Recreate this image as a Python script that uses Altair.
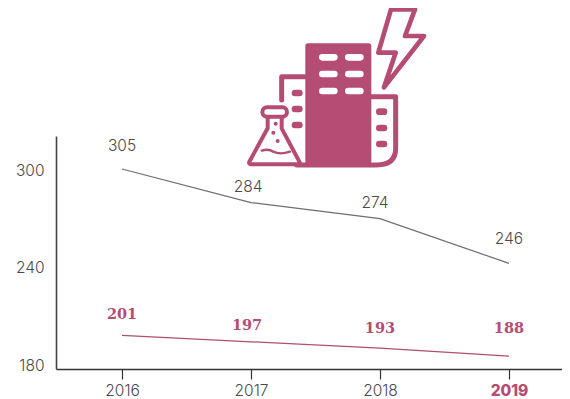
import base64
import altair as alt
import pandas as pd

years = [2016, 2017, 2018, 2019]
grey_values = [305, 284, 274, 246]
pink_values = [201, 197, 193, 188]
y_tick_labels = [180, 240, 300]

PINK = "#B44C74"
GREY = "#6E6E6E"
TEXT = "#4A4A4A"
SANS = "Inter"

# label nudges in pixels (layout, not data)
grey_dx = [0, -3, -5, 0]
grey_dy = [-23, -16, -16, -24]
pink_dx = [0, -4, 0, 0]
pink_dy = [-20, -16, -19, -27]

icon = f"""<svg xmlns='http://www.w3.org/2000/svg' viewBox='0 0 630 525' width='210' height='175'>
<g fill='none' stroke='{PINK}' stroke-width='15' stroke-linecap='round' stroke-linejoin='round'>
<path d='M155 300 V230 H226'/>
<path d='M424 290 H497 V445 Q497 495 440 495 H200'/>
<path d='M483 28 H555 L525 108 H582 L462 262 L497 158 H445 Z' fill='white' stroke-width='14'/>
</g>
<rect x='226' y='130' width='198' height='370' rx='8' fill='{PINK}'/>
<g fill='white'>
<rect x='267' y='162' width='56' height='20' rx='10'/><rect x='345' y='162' width='56' height='20' rx='10'/>
<rect x='267' y='212' width='56' height='20' rx='10'/><rect x='345' y='212' width='56' height='20' rx='10'/>
<rect x='267' y='263' width='56' height='20' rx='10'/><rect x='345' y='263' width='56' height='20' rx='10'/>
</g>
<g fill='{PINK}'>
<rect x='185' y='269' width='33' height='20' rx='10'/><rect x='185' y='317' width='33' height='20' rx='10'/><rect x='185' y='365' width='33' height='20' rx='10'/>
<rect x='438' y='325' width='34' height='20' rx='10'/><rect x='438' y='374' width='34' height='20' rx='10'/><rect x='438' y='422' width='34' height='20' rx='10'/>
</g>
<path d='M113 350 V385 L58 485 Q55 493 65 493 H203 Q213 493 208 485 L155 385 V350' fill='white' stroke='{PINK}' stroke-width='12' stroke-linejoin='round'/>
<rect x='97' y='322' width='74' height='28' rx='14' fill='white' stroke='{PINK}' stroke-width='12'/>
<path d='M95 452 Q115 445 130 455 Q150 465 180 455' fill='none' stroke='{PINK}' stroke-width='7' stroke-linecap='round'/>
<circle cx='137' cy='371' r='6' fill='{PINK}'/><circle cx='130' cy='398' r='6' fill='{PINK}'/><circle cx='143' cy='423' r='6' fill='{PINK}'/>
</svg>"""
icon_url = "data:image/svg+xml;base64," + base64.b64encode(icon.encode()).decode()

grey_df = pd.DataFrame({"year": years, "value": grey_values})
pink_df = pd.DataFrame({"year": years, "value": pink_values})
tick_df = pd.DataFrame({"v": y_tick_labels})

x_scale = alt.Scale(domain=[2015.488, 2019.411], nice=False, zero=False)
y_scale = alt.Scale(domain=[180, 325.6], nice=False, zero=False)
x_enc = alt.X(
    "year:Q",
    scale=x_scale,
    axis=alt.Axis(
        values=years, format="d", title=None, grid=False,
        domainColor="#333333", domainWidth=1.3,
        tickColor="#333333", tickSize=10, tickWidth=1.2,
        labelFont=SANS, labelFontSize=15.5, labelPadding=4,
        labelColor=alt.expr(f"datum.value == 2019 ? '{PINK}' : '{TEXT}'"),
        labelFontWeight=alt.expr("datum.value == 2019 ? 800 : 300"),
    ),
)
y_enc = alt.Y("value:Q", scale=y_scale, axis=None)

axis_layer = alt.Chart(tick_df).mark_point(opacity=0).encode(
    y=alt.Y(
        "v:Q",
        scale=alt.Scale(domain=[177.85, 320.9], nice=False, zero=False),
        axis=alt.Axis(
            values=y_tick_labels, format="d", title=None, grid=False, orient="left",
            ticks=False, domainColor="#444444", domainWidth=1.6,
            labelFont=SANS, labelFontSize=15.5, labelFontWeight=300, labelColor=TEXT, labelPadding=12,
        ),
    ),
)

grey_line = alt.Chart(grey_df).mark_line(color=GREY, strokeWidth=1.2).encode(x=x_enc, y=y_enc)
pink_line = alt.Chart(pink_df).mark_line(color=PINK, strokeWidth=1.3).encode(x=x_enc, y=y_enc)

layers = [grey_line, pink_line]
for i in range(len(years)):
    layers.append(
        alt.Chart(grey_df.iloc[[i]]).mark_text(
            font=SANS, fontSize=15.5, fontWeight=300, color=TEXT, dx=grey_dx[i], dy=grey_dy[i]
        ).encode(x=x_enc, y=y_enc, text="value:Q")
    )
    layers.append(
        alt.Chart(pink_df.iloc[[i]]).mark_text(
            font="DejaVu Serif", fontSize=14.5, fontWeight="bold", color=PINK, dx=pink_dx[i], dy=pink_dy[i]
        ).encode(x=x_enc, y=y_enc, text="value:Q")
    )
data_layers = alt.layer(*layers)

image_layer = alt.Chart(pd.DataFrame({"url": [icon_url]})).mark_image(
    width=210, height=175, align="left", baseline="top", clip=False
).encode(url="url:N", x=alt.value(174), y=alt.value(-136))

chart = alt.layer(axis_layer, data_layers, image_layer).resolve_scale(y="independent").properties(
    width=506,
    height=233,
    padding={"left": 48, "top": 128, "right": 0, "bottom": 30},
    autosize=alt.AutoSizeParams(type="none"),
    background="white",
).configure_view(stroke=None)

chart.save("out.html", embed_options={"renderer": "svg", "actions": False})
